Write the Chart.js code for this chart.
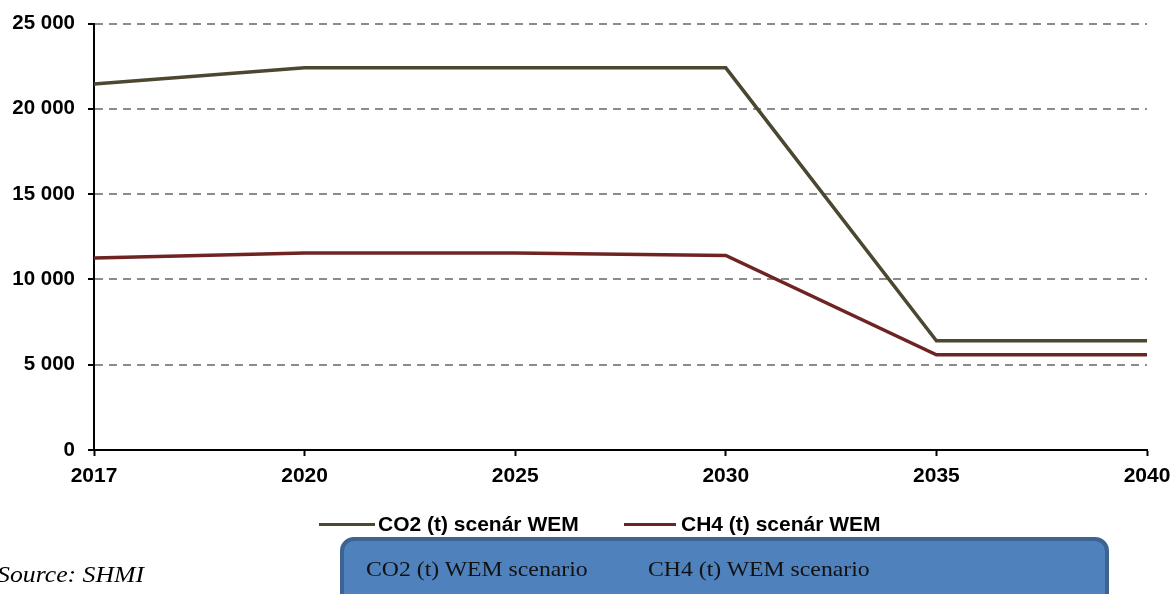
<!DOCTYPE html>
<html><head><meta charset="utf-8">
<script src="https://cdn.jsdelivr.net/npm/chart.js@4"></script>
<style>
html,body{margin:0;padding:0;background:#fff;width:1176px;height:594px;overflow:hidden;position:relative;font-family:"Liberation Sans",Arial,sans-serif}
#wrap{position:absolute;left:0;top:0;width:1176px;height:594px}
.leg{position:absolute;top:513px;font-weight:bold;font-size:21px;color:#000;white-space:nowrap;line-height:22px}
.leg span.ln{position:absolute;top:10px;height:3px}
#box{position:absolute;left:340px;top:537px;width:769px;height:80px;background:#4f81bd;border:4px solid #3d6392;border-radius:14px;box-sizing:border-box}
.bt{position:absolute;top:557px;font-family:"Liberation Serif","Times New Roman",serif;font-size:21px;color:#111;white-space:nowrap;transform:scaleX(1.13);transform-origin:0 0}
#src{position:absolute;left:-3px;top:562px;font-family:"Liberation Serif","Times New Roman",serif;font-style:italic;font-size:23px;white-space:nowrap;transform:scaleX(1.12);transform-origin:0 0}
</style>
</head><body>
<div id="wrap"><canvas id="c" width="1176" height="594"></canvas></div>
<div class="leg" style="left:319px"><span class="ln" style="left:0;width:56px;background:#4b4730"></span><span style="margin-left:59px">CO2 (t) scenár WEM</span></div>
<div class="leg" style="left:624px"><span class="ln" style="left:0;width:52px;background:#6f2424"></span><span style="margin-left:57px">CH4 (t) scenár WEM</span></div>
<div id="box"></div>
<div class="bt" style="left:366px">CO2 (t) WEM scenario</div>
<div class="bt" style="left:648px">CH4 (t) WEM scenario</div>
<div id="src">Source: SHMI</div>
<script>
const categories = ['2017','2020','2025','2030','2035','2040'];
const co2Values = [21450, 22400, 22400, 22400, 6400, 6400];
const ch4Values = [11250, 11550, 11550, 11400, 5580, 5580];
const seriesNames = ['CO2 (t) scenár WEM', 'CH4 (t) scenár WEM'];
const yTicks = [0, 5000, 10000, 15000, 20000, 25000];

const fam = '"Liberation Sans", Arial, sans-serif';
const fmt = v => String(v).replace(/\B(?=(\d{3})+(?!\d))/g, ' ');

new Chart(document.getElementById('c'), {
  type: 'line',
  data: {
    labels: categories,
    datasets: [
      {label: seriesNames[0], data: co2Values, borderColor: '#4b4730', borderWidth: 3.5, pointRadius: 0, tension: 0, fill: false},
      {label: seriesNames[1], data: ch4Values, borderColor: '#6f2424', borderWidth: 3.5, pointRadius: 0, tension: 0, fill: false}
    ]
  },
  options: {
    responsive: false,
    animation: false,
    events: [],
    layout: {padding: {top: 23.5, right: 29, left: 0, bottom: 104}},
    plugins: {legend: {display: false}, tooltip: {enabled: false}},
    scales: {
      x: {
        type: 'category',
        offset: false,
        grid: {drawOnChartArea: false, drawTicks: true, tickLength: 6, tickColor: '#000', tickWidth: 2},
        border: {color: '#000', width: 2},
        ticks: {font: {family: fam, weight: 'bold', size: 21}, color: '#000', padding: 8, maxRotation: 0, autoSkip: false},
        afterFit(s) { s.height = 40; s.paddingLeft = 0; s.paddingRight = 0; }
      },
      y: {
        min: yTicks[0],
        max: yTicks[yTicks.length - 1],
        afterBuildTicks(s) { s.ticks = yTicks.map(v => ({value: v})); },
        ticks: {font: {family: fam, weight: 'bold', size: 20.5}, color: '#000', padding: 13, callback: v => fmt(v)},
        grid: {
          color: ctx => (ctx.tick && ctx.tick.value === 0) ? 'rgba(0,0,0,0)' : '#8c8c8c',
          lineWidth: 2, tickColor: '#000', tickLength: 6, tickWidth: 2
        },
        border: {color: '#000', width: 2, dash: [8, 6]},
        afterFit(s) { s.width = 94; s.paddingTop = 0; s.paddingBottom = 0; }
      }
    }
  }
});
</script>
</body></html>
